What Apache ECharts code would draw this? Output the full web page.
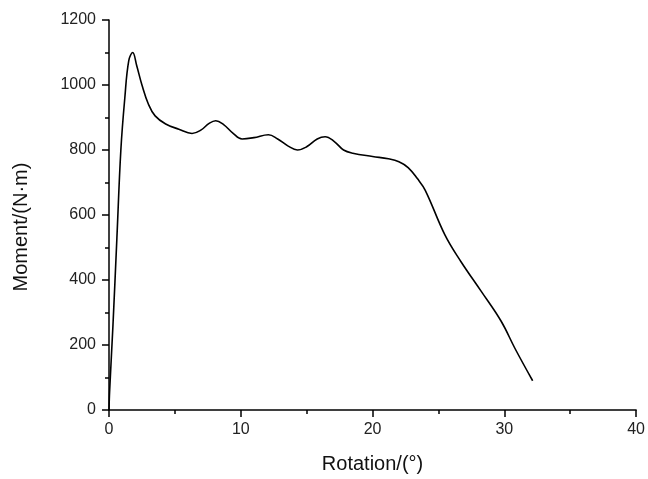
<!DOCTYPE html>
<html>
<head>
<meta charset="utf-8">
<script src="https://cdn.jsdelivr.net/npm/echarts@6/dist/echarts.min.js"></script>
<style>html,body{margin:0;padding:0;background:#fff;}#c{width:648px;height:479px;}</style>
</head>
<body>
<div id="c"></div>
<script>
const rotation = [0,0.05,0.3,0.6,0.9,1.2,1.5,1.8,2.1,2.5,3.0,3.5,4.3,5.3,6.3,7.0,7.6,8.1,8.7,9.4,10.1,11.0,12.1,12.8,13.6,14.3,15.0,15.8,16.4,17.1,17.8,18.5,20,21.2,22.0,22.7,23.4,24.0,25.5,26.7,28.25,29.76,30.8,32.15];
const moment = [0,60,260,530,800,960,1075,1100,1060,1000,940,905,880,864,851,862,882,890,878,852,834,838,847,834,812,800,810,834,841,826,800,790,780,773,764,746,712,676,538,457,365,273,190,90];
const xTicks = [0,10,20,30,40];
const yTicks = [0,200,400,600,800,1000,1200];

const data = rotation.map((x,i)=>[x, moment[i]]);
const chart = echarts.init(document.getElementById('c'));
const font = 'Liberation Sans, Arial, sans-serif';
chart.setOption({
  animation:false,
  backgroundColor:'#fff',
  grid:{left:109,top:20,right:9,bottom:66,containLabel:false},
  xAxis:{
    type:'value', min:xTicks[0], max:xTicks[xTicks.length-1], interval:10,
    name:'Rotation/(°)', nameLocation:'middle', nameGap:44,
    nameTextStyle:{fontFamily:font,fontSize:20,color:'#111'},
    axisLine:{show:true,onZero:false,lineStyle:{color:'#000',width:1.5}},
    axisTick:{show:true,inside:false,length:7,lineStyle:{color:'#000',width:1.5}},
    minorTick:{show:true,splitNumber:2,length:4,lineStyle:{color:'#000',width:1.5}},
    axisLabel:{margin:12,fontFamily:font,fontSize:16,color:'#222',formatter:v=>String(v)},
    splitLine:{show:false}
  },
  yAxis:{
    type:'value', min:yTicks[0], max:yTicks[yTicks.length-1], interval:200,
    name:'Moment/(N·m)', nameLocation:'middle', nameGap:78, nameRotate:90,
    nameTextStyle:{fontFamily:font,fontSize:20,color:'#111',padding:[0,24,0,0]},
    axisLine:{show:true,lineStyle:{color:'#000',width:1.5}},
    axisTick:{show:true,inside:false,length:7,lineStyle:{color:'#000',width:1.5}},
    minorTick:{show:true,splitNumber:2,length:4,lineStyle:{color:'#000',width:1.5}},
    axisLabel:{margin:13,fontFamily:font,fontSize:16,color:'#222',formatter:v=>String(v)},
    splitLine:{show:false}
  },
  series:[{
    type:'line', data:data, smooth:0.4, showSymbol:false,
    lineStyle:{color:'#000',width:1.6}
  }]
});
</script>
</body>
</html>
